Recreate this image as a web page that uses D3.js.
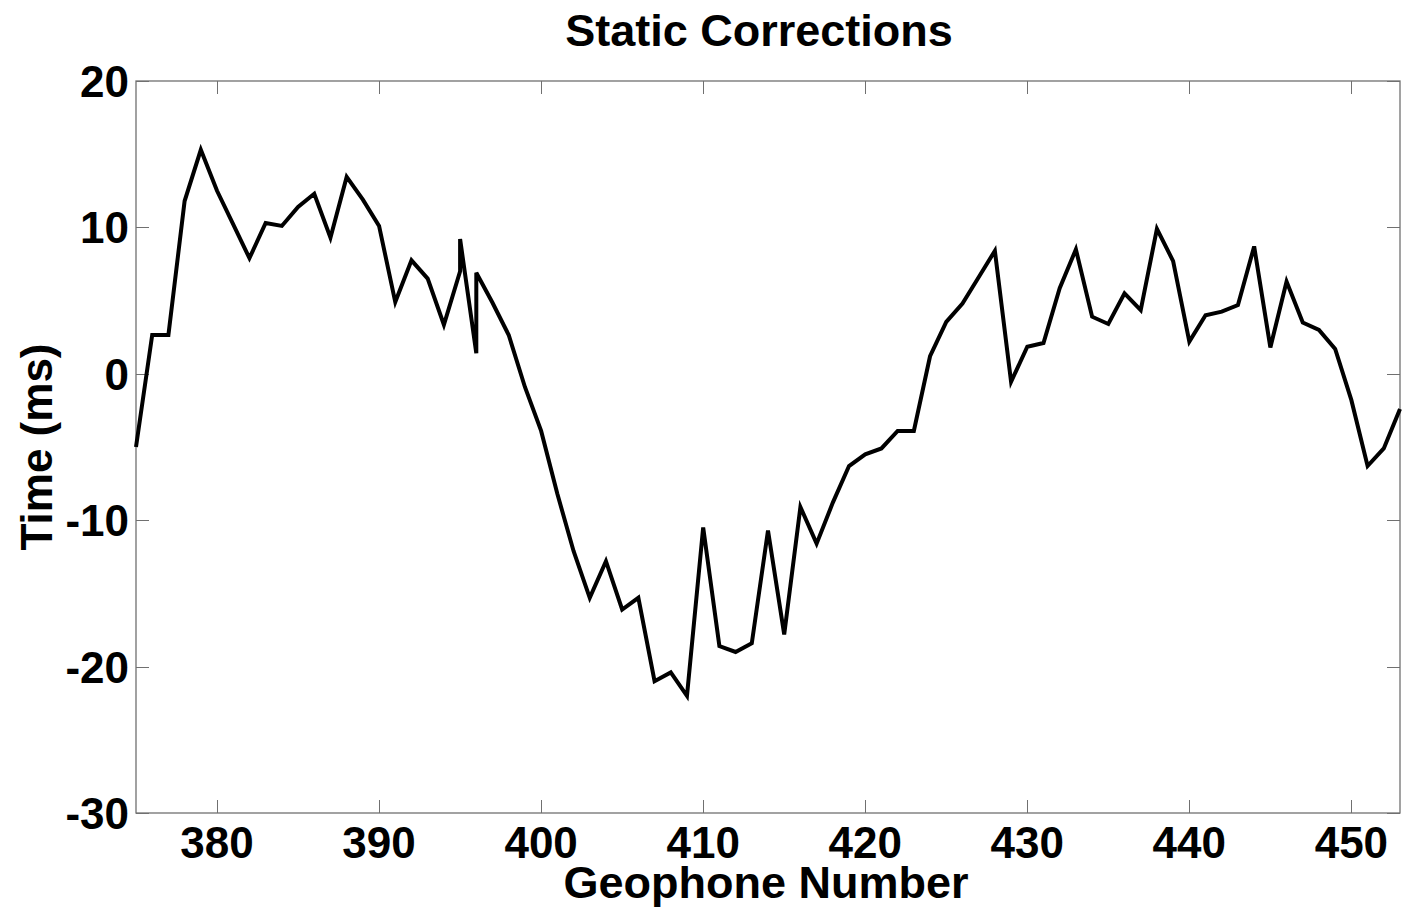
<!DOCTYPE html>
<html>
<head>
<meta charset="utf-8">
<script src="https://cdn.jsdelivr.net/npm/d3@7"></script>
<style>
  html, body { margin: 0; padding: 0; background: #fff; }
  svg { display: block; }
  text { font-family: Arial, "Liberation Sans", Helvetica, sans-serif; font-weight: bold; fill: #000; }
</style>
</head>
<body>
<svg id="chart" width="1403" height="910"></svg>
<script>
// Geophone positions (395 and 396 each carry two picks)
const geophone = [
  375, 376, 377, 378, 379, 380, 381, 382, 383, 384,
  385, 386, 387, 388, 389, 390, 391, 392, 393, 394,
  395, 395, 396, 396, 397, 398, 399, 400, 401, 402,
  403, 404, 405, 406, 407, 408, 409, 410, 411, 412,
  413, 414, 415, 416, 417, 418, 419, 420, 421, 422,
  423, 424, 425, 426, 427, 428, 429, 430, 431, 432,
  433, 434, 435, 436, 437, 438, 439, 440, 441, 442,
  443, 444, 445, 446, 447, 448, 449, 450, 451, 452,
  453
];

// Static correction per geophone, ms
const timeMs = [
  -5.0, 2.65, 2.65, 11.8, 15.3, 12.5, 10.2, 7.9, 10.3, 10.1,
  11.4, 12.3, 9.3, 13.45, 11.9, 10.1, 4.9, 7.75, 6.5, 3.35,
  7.0, 9.2, 1.4, 6.9, 4.85, 2.65, -0.9, -3.9, -8.2, -12.1,
  -15.3, -12.8, -16.1, -15.3, -21.0, -20.4, -22.0, -10.5, -18.6, -19.0,
  -18.4, -10.7, -17.8, -9.1, -11.6, -8.8, -6.3, -5.5, -5.1, -3.9,
  -3.9, 1.2, 3.55, 4.8, 6.6, 8.4, -0.55, 1.85, 2.1, 5.85,
  8.5, 3.9, 3.4, 5.5, 4.35, 9.9, 7.7, 2.2, 4.0, 4.25,
  4.7, 8.7, 1.8, 6.3, 3.5, 3.0, 1.7, -1.8, -6.3, -5.1,
  -2.4
];

const xTicks = [380, 390, 400, 410, 420, 430, 440, 450];
const yTicks = [-30, -20, -10, 0, 10, 20];

const titleText = "Static Corrections";
const xLabel = "Geophone Number";
const yLabel = "Time (ms)";

const svg = d3.select("#chart");
const plotLeft = 136, plotTop = 81, plotRight = 1400, plotBottom = 813;

const x = d3.scaleLinear().domain([375, 453]).range([plotLeft, plotRight]);
const y = d3.scaleLinear().domain([-30, 20]).range([plotBottom, plotTop]);

const frameColor = "#707070";
const tickLen = 13;

// axes box
svg.append("rect")
  .attr("x", plotLeft).attr("y", plotTop)
  .attr("width", plotRight - plotLeft).attr("height", plotBottom - plotTop)
  .attr("fill", "none").attr("stroke", frameColor).attr("stroke-width", 1.3);

// bottom & top ticks
const xt = svg.append("g");
xTicks.forEach(v => {
  const px = Math.round(x(v)) + 0.5;
  xt.append("line").attr("x1", px).attr("x2", px).attr("y1", plotBottom).attr("y2", plotBottom - tickLen)
    .attr("stroke", frameColor).attr("stroke-width", 1);
  xt.append("line").attr("x1", px).attr("x2", px).attr("y1", plotTop).attr("y2", plotTop + tickLen)
    .attr("stroke", frameColor).attr("stroke-width", 1);
  xt.append("text").attr("x", x(v)).attr("y", 858)
    .attr("text-anchor", "middle").attr("font-size", 44).text(v);
});

// left & right ticks
const yt = svg.append("g");
yTicks.forEach(v => {
  const py = Math.round(y(v)) + 0.5;
  yt.append("line").attr("x1", plotLeft).attr("x2", plotLeft + tickLen).attr("y1", py).attr("y2", py)
    .attr("stroke", frameColor).attr("stroke-width", 1);
  yt.append("line").attr("x1", plotRight).attr("x2", plotRight - tickLen).attr("y1", py).attr("y2", py)
    .attr("stroke", frameColor).attr("stroke-width", 1);
  yt.append("text").attr("x", 129).attr("y", y(v) + 16)
    .attr("text-anchor", "end").attr("font-size", 44).text(v);
});

// static correction curve
const line = d3.line()
  .x((d, i) => x(geophone[i]))
  .y(d => y(d));

svg.append("path")
  .datum(timeMs)
  .attr("d", line)
  .attr("fill", "none")
  .attr("stroke", "#000")
  .attr("stroke-width", 4)
  .attr("stroke-linejoin", "miter");

// title and axis labels
svg.append("text").attr("x", 759).attr("y", 46)
  .attr("text-anchor", "middle").attr("font-size", 45).text(titleText);

svg.append("text").attr("x", 766).attr("y", 898)
  .attr("text-anchor", "middle").attr("font-size", 45).text(xLabel);

svg.append("text")
  .attr("transform", `translate(52, ${(plotTop + plotBottom) / 2}) rotate(-90)`)
  .attr("text-anchor", "middle").attr("font-size", 44).text(yLabel);
</script>
</body>
</html>
